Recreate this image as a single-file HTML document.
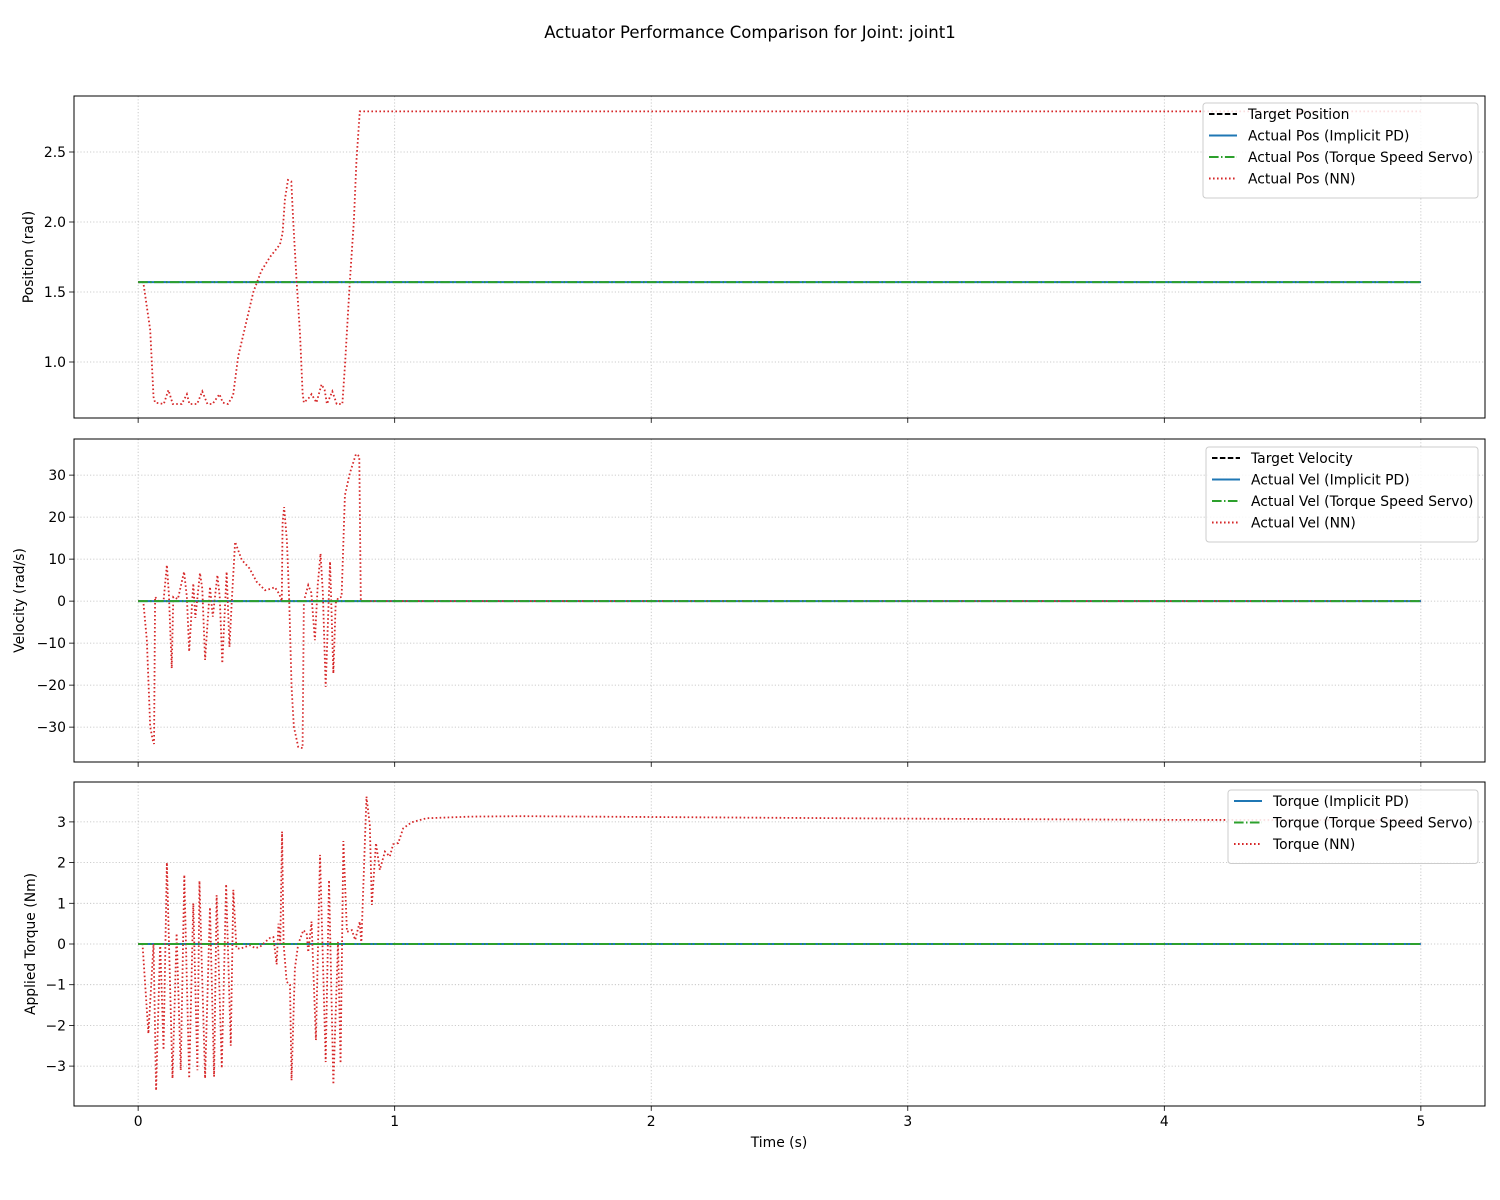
<!DOCTYPE html>
<html><head><meta charset="utf-8"><style>
body{margin:0;background:#fff;}
svg{display:block;font-family:"DejaVu Sans","Liberation Sans",sans-serif;}
</style></head><body>
<svg id="fig" width="1500" height="1200" xmlns="http://www.w3.org/2000/svg">
<text x="750" y="38" text-anchor="middle" font-size="16.5">Actuator Performance Comparison for Joint: joint1</text>
</svg>
<script>
const xTicks=[0,1,2,3,4,5];
const posTicks=[1.0,1.5,2.0,2.5];
const posTickLabels=['1.0','1.5','2.0','2.5'];
const velTicks=[-30,-20,-10,0,10,20,30];
const tqTicks=[-3,-2,-1,0,1,2,3];
const targetPos=1.5708;
const targetVel=0;
const nnPosT=[0,0.02,0.047,0.06,0.066,0.1,0.118,0.135,0.17,0.19,0.2,0.23,0.25,0.27,0.29,0.317,0.33,0.35,0.37,0.39,0.417,0.449,0.48,0.514,0.553,0.563,0.572,0.584,0.597,0.605,0.618,0.631,0.641,0.646,0.664,0.676,0.695,0.715,0.727,0.736,0.757,0.774,0.796,0.806,0.825,0.841,0.851,0.864,5];
const nnPosV=[1.57,1.57,1.23,0.75,0.71,0.70,0.80,0.70,0.70,0.77,0.70,0.70,0.79,0.70,0.70,0.77,0.71,0.70,0.76,1.04,1.25,1.50,1.65,1.75,1.84,1.92,2.16,2.30,2.29,1.99,1.57,1.20,0.78,0.71,0.74,0.77,0.71,0.84,0.80,0.70,0.79,0.70,0.70,0.97,1.57,2.01,2.44,2.79,2.79];
const nnVelT=[0,0.02,0.034,0.047,0.057,0.062,0.066,0.079,0.099,0.112,0.12,0.131,0.137,0.155,0.179,0.19,0.199,0.215,0.223,0.241,0.25,0.261,0.28,0.291,0.309,0.318,0.328,0.345,0.356,0.365,0.378,0.404,0.434,0.462,0.495,0.514,0.533,0.55,0.56,0.563,0.569,0.58,0.589,0.598,0.607,0.624,0.641,0.646,0.663,0.675,0.689,0.7,0.711,0.72,0.731,0.748,0.761,0.77,0.78,0.793,0.806,0.825,0.849,0.862,0.868,5];
const nnVelV=[0,0,-9.3,-29.9,-33.1,-34,1,0,0,8.6,1.5,-16,1,0.5,7,1,-12,4.2,-4,6.7,3,-14,3.4,-3.7,6.2,1,-14.8,7,-10.9,0,14.1,9.8,7.8,4.6,2.6,2.9,3.3,1.7,0,18.5,22.4,14.3,0,-20.4,-29.9,-34.7,-35,0,3.8,2,-9.3,3.8,11.3,2,-20.4,9.4,-17.2,-0.5,0.8,1,25.2,30.4,35,34.5,0,0];
const nnTqT=[0,0.017,0.04,0.06,0.07,0.086,0.099,0.112,0.134,0.15,0.166,0.18,0.199,0.215,0.231,0.239,0.261,0.28,0.296,0.306,0.326,0.343,0.361,0.371,0.383,0.397,0.417,0.436,0.456,0.475,0.495,0.514,0.527,0.54,0.547,0.554,0.561,0.567,0.579,0.592,0.598,0.611,0.624,0.644,0.657,0.663,0.676,0.693,0.709,0.731,0.744,0.761,0.779,0.789,0.8,0.814,0.833,0.846,0.864,0.87,0.89,0.903,0.911,0.927,0.942,0.962,0.981,0.994,1.014,1.033,1.066,1.124,1.3,1.5,2,3,4,5];
const nnTqV=[0,0,-2.2,0,-3.6,0.05,-2.6,2.0,-3.3,0.26,-3.1,1.7,-3.3,1.0,-3.1,1.55,-3.3,0.9,-3.26,1.2,-3.05,1.47,-2.5,1.33,-0.1,-0.12,-0.07,-0.03,-0.1,-0.07,0.05,0.15,0.17,-0.5,0.5,0,2.76,0,-0.93,-1.0,-3.35,-0.6,0,0.34,0.26,-0.2,0.55,-2.36,2.19,-2.9,1.57,-3.45,0.05,-2.93,2.53,0.3,0.34,0.1,0.55,0,3.62,2.93,0.96,2.48,1.82,2.27,2.15,2.45,2.48,2.84,2.99,3.09,3.13,3.14,3.12,3.08,3.05,3.04];

const NS="http://www.w3.org/2000/svg";
const svg=document.getElementById('fig');
const X0=74,X1=1485,xmin=-0.25,xmax=5.25;
function sx(t){return X0+(t-xmin)/(xmax-xmin)*(X1-X0);}
function mk(tag,attrs,parent){const e=document.createElementNS(NS,tag);for(const k in attrs)e.setAttribute(k,attrs[k]);(parent||svg).appendChild(e);return e;}

function panel(name,top,bot,ymin,ymax,ticks,labels,ylabel,showX,series,legend,leg){
  const g=mk('g',{});
  
  
  const sy=v=>bot-(v-ymin)/(ymax-ymin)*(bot-top);
  xTicks.forEach(t=>{const l=mk('line',{x1:sx(t),x2:sx(t),y1:top,y2:bot,stroke:'#bdbdbd','stroke-width':0.8,'stroke-dasharray':'1.2,2'},g);
    });
  ticks.forEach(v=>{const l=mk('line',{x1:X0,x2:X1,y1:sy(v),y2:sy(v),stroke:'#bdbdbd','stroke-width':0.8,'stroke-dasharray':'1.2,2'},g);
    });
  series.forEach(s=>{
    let d='';s.t.forEach((t,i)=>{d+=(i?'L':'M')+sx(t).toFixed(2)+','+sy(s.v[i]).toFixed(2);});
    const p=mk('path',{d:d,fill:'none',stroke:s.c,'stroke-width':s.w||1.5,'stroke-dasharray':s.dash||'none'},g);
    
  });
  const f=mk('rect',{x:X0,y:top,width:X1-X0,height:bot-top,fill:'none',stroke:'#000','stroke-width':1},g);
  
  xTicks.forEach(t=>{mk('line',{x1:sx(t),x2:sx(t),y1:bot,y2:bot+4.9,stroke:'#000','stroke-width':0.8},g);
    if(showX){const tx=mk('text',{x:sx(t),y:bot+20,'text-anchor':'middle','font-size':13.9},g);tx.textContent=String(t);
      }});
  ticks.forEach((v,i)=>{mk('line',{x1:X0-4.9,x2:X0,y1:sy(v),y2:sy(v),stroke:'#000','stroke-width':0.8},g);
    const tx=mk('text',{x:X0-8,y:sy(v)+5,'text-anchor':'end','font-size':13.9},g);
    tx.textContent=(labels?labels[i]:String(v)).replace('-','\u2212');
    });
  const yl=mk('text',{x:0,y:0,'text-anchor':'middle','font-size':13.9,transform:`translate(${leg.yl},${(top+bot)/2}) rotate(-90)`},g);
  yl.textContent=ylabel;
  const lg=mk('g',{},g);
  mk('rect',{x:leg.x,y:leg.y,width:leg.w,height:legend.length*21.5+9,rx:3,fill:'#fff','fill-opacity':0.85,stroke:'#ccc','stroke-width':1},lg);
  legend.forEach((e,i)=>{const yy=leg.y+11+i*21.5;
    const ge=mk('g',{},lg);
    mk('line',{x1:leg.x+6,x2:leg.x+34,y1:yy,y2:yy,stroke:e.c,'stroke-width':e.w||1.5,'stroke-dasharray':e.dash||'none'},ge);
    const t=mk('text',{x:leg.x+45,y:yy+5,'font-size':13.9},ge);t.textContent=e.label;});
}
const cols={k:'#000',b:'#1f77b4',g:'#2ca02c',r:'#d62728'};
const ds={k:'5.5,2.4',g:'9.6,2.4,1.5,2.4',r:'1.6,2.4'};
panel('position-panel',96,418,0.6,2.9,posTicks,posTickLabels,'Position (rad)',false,[
 {name:'target-position-line',t:[0,5],v:[targetPos,targetPos],c:cols.k,dash:ds.k},
 {name:'implicit-pd-position-line',t:[0,5],v:[targetPos,targetPos],c:cols.b,w:2},
 {name:'nn-position-line',t:nnPosT,v:nnPosV,c:cols.r,dash:ds.r,w:1.8},
 {name:'servo-position-line',t:[0,5],v:[targetPos,targetPos],c:cols.g,dash:ds.g,w:2}],
 [{label:'Target Position',c:cols.k,dash:ds.k,w:2},{label:'Actual Pos (Implicit PD)',c:cols.b,w:2},{label:'Actual Pos (Torque Speed Servo)',c:cols.g,dash:ds.g,w:2},{label:'Actual Pos (NN)',c:cols.r,dash:ds.r,w:2}],
 {x:1203,y:103,w:275,yl:33});
panel('velocity-panel',439,762,-38.3,38.6,velTicks,null,'Velocity (rad/s)',false,[
 {name:'target-velocity-line',t:[0,5],v:[targetVel,targetVel],c:cols.k,dash:ds.k},
 {name:'implicit-pd-velocity-line',t:[0,5],v:[0,0],c:cols.b,w:2},
 {name:'nn-velocity-line',t:nnVelT,v:nnVelV,c:cols.r,dash:ds.r,w:1.8},
 {name:'servo-velocity-line',t:[0,5],v:[0,0],c:cols.g,dash:ds.g,w:2}],
 [{label:'Target Velocity',c:cols.k,dash:ds.k,w:2},{label:'Actual Vel (Implicit PD)',c:cols.b,w:2},{label:'Actual Vel (Torque Speed Servo)',c:cols.g,dash:ds.g,w:2},{label:'Actual Vel (NN)',c:cols.r,dash:ds.r,w:2}],
 {x:1206,y:447,w:272,yl:24});
panel('torque-panel',782,1106,-3.98,3.98,tqTicks,null,'Applied Torque (Nm)',true,[
 {name:'implicit-pd-torque-line',t:[0,5],v:[0,0],c:cols.b,w:2},
 {name:'nn-torque-line',t:nnTqT,v:nnTqV,c:cols.r,dash:ds.r,w:1.8},
 {name:'servo-torque-line',t:[0,5],v:[0,0],c:cols.g,dash:ds.g,w:2}],
 [{label:'Torque (Implicit PD)',c:cols.b,w:2},{label:'Torque (Torque Speed Servo)',c:cols.g,dash:ds.g,w:2},{label:'Torque (NN)',c:cols.r,dash:ds.r,w:2}],
 {x:1228,y:790,w:250,yl:35});
const xl=mk('text',{x:779,y:1147,'text-anchor':'middle','font-size':13.9});
xl.textContent='Time (s)';


</script>
</body></html>
